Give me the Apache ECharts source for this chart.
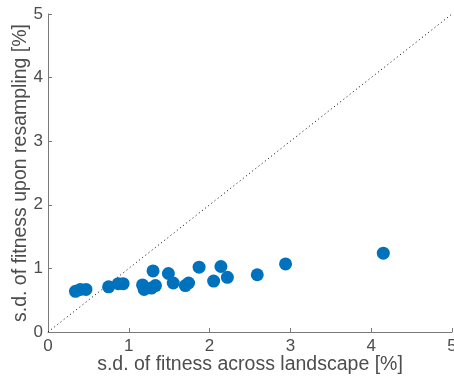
<!DOCTYPE html>
<html>
<head>
<meta charset="utf-8">
<script src="https://cdn.jsdelivr.net/npm/echarts@6/dist/echarts.min.js"></script>
<style>
  html, body { margin: 0; padding: 0; background: #fff; }
  #chart { width: 454px; height: 381px; }
</style>
</head>
<body>
<div id="chart"></div>
<script>
// s.d. of fitness across the landscape (%) for each point
const landscapeSd = [0.34, 0.40, 0.47, 0.75, 0.87, 0.93, 1.17, 1.19, 1.28, 1.30, 1.33, 1.49, 1.55, 1.70, 1.74, 1.87, 2.05, 2.14, 2.22, 2.59, 2.94, 4.15];
// s.d. of fitness upon resampling (%) for the same points
const resampleSd = [0.64, 0.67, 0.67, 0.71, 0.76, 0.76, 0.74, 0.67, 0.69, 0.96, 0.73, 0.92, 0.77, 0.73, 0.77, 1.02, 0.80, 1.03, 0.86, 0.90, 1.07, 1.24];
// identity reference line end points
const identityLine = [[0, 0], [5, 5]];

const points = landscapeSd.map((x, i) => [x, resampleSd[i]]);
const font = 'Liberation Sans, Arial, sans-serif';
const textColor = '#4d4d4d';

const chart = echarts.init(document.getElementById('chart'), null, { renderer: 'canvas' });
chart.setOption({
  animation: false,
  grid: { left: 48, right: 2, top: 14, bottom: 49, containLabel: false, outerBoundsMode: 'none' },
  xAxis: {
    type: 'value', min: 0, max: 5, interval: 1,
    name: 's.d. of fitness across landscape [%]',
    nameLocation: 'middle', nameGap: 23, nameMoveOverlap: false,
    nameTextStyle: { fontFamily: font, fontSize: 19.5, color: textColor },
    axisLine: { show: true, lineStyle: { color: '#7a7a7a', width: 1 } },
    axisTick: { show: true, inside: true, length: 4, lineStyle: { color: '#7a7a7a' } },
    axisLabel: { fontFamily: font, fontSize: 17, color: textColor, margin: 6 },
    splitLine: { show: false }
  },
  yAxis: {
    type: 'value', min: 0, max: 5, interval: 1,
    name: 's.d. of fitness upon resampling [%]',
    nameLocation: 'middle', nameGap: 17, nameMoveOverlap: false,
    nameTextStyle: { fontFamily: font, fontSize: 19.5, color: textColor },
    axisLine: { show: true, lineStyle: { color: '#7a7a7a', width: 1 } },
    axisTick: { show: true, inside: true, length: 4, lineStyle: { color: '#7a7a7a' } },
    axisLabel: { fontFamily: font, fontSize: 17, color: textColor, margin: 5 },
    splitLine: { show: false }
  },
  series: [
    {
      type: 'line',
      data: identityLine,
      symbol: 'none',
      lineStyle: { color: '#000', width: 1, type: [1, 3] },
      silent: true,
      z: 1
    },
    {
      type: 'scatter',
      data: points,
      symbolSize: 13,
      itemStyle: { color: '#0072BD', opacity: 1 },
      z: 2
    }
  ]
});
</script>
</body>
</html>
